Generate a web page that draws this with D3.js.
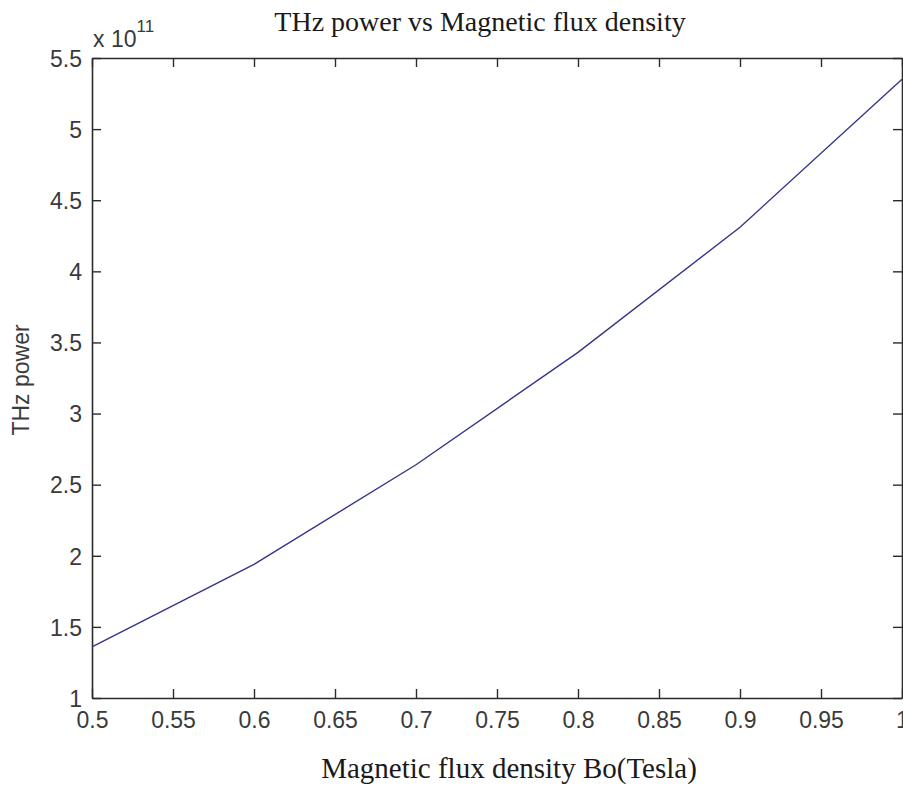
<!DOCTYPE html>
<html><head><meta charset="utf-8">
<script src="https://cdn.jsdelivr.net/npm/d3@7"></script>
<style>body{margin:0;background:#fff}svg{display:block}</style>
</head><body>
<script>
const bField = [0.5, 0.6, 0.7, 0.8, 0.9, 1.0];
const thzPower = [1.36, 1.94, 2.64, 3.43, 4.31, 5.35]; // x 10^11
const xTicks = [0.5,0.55,0.6,0.65,0.7,0.75,0.8,0.85,0.9,0.95,1];
const xTickLabels = ["0.5","0.55","0.6","0.65","0.7","0.75","0.8","0.85","0.9","0.95","1"];
const yTicks = [1,1.5,2,2.5,3,3.5,4,4.5,5,5.5];
const yTickLabels = ["1","1.5","2","2.5","3","3.5","4","4.5","5","5.5"];

const W = 903, H = 787;
const L = 92, R = 902, T = 58, B = 698;
const svg = d3.select("body").append("svg").attr("width", W).attr("height", H);
const x = d3.scaleLinear().domain([0.5, 1]).range([L, R]);
const y = d3.scaleLinear().domain([1, 5.5]).range([B, T]);

const axCol = "#2b2b2b";
const tickFont = "'Liberation Sans', Arial, sans-serif";

// bottom axis
const gB = svg.append("g").attr("transform", `translate(0,${B})`)
  .call(d3.axisBottom(x).tickValues(xTicks).tickSizeInner(-9).tickSizeOuter(0)
    .tickFormat((d,i)=>xTickLabels[i]));
gB.selectAll("text").attr("dy", null).attr("y", 30);
// top axis
const gT = svg.append("g").attr("transform", `translate(0,${T})`)
  .call(d3.axisTop(x).tickValues(xTicks).tickSizeInner(-9).tickSizeOuter(0).tickFormat(""));
// left axis
const gL = svg.append("g").attr("transform", `translate(${L},0)`)
  .call(d3.axisLeft(y).tickValues(yTicks).tickSizeInner(-9).tickSizeOuter(0)
    .tickFormat((d,i)=>yTickLabels[i]));
gL.selectAll("text").attr("x", -10).attr("dy", "0.36em");
// right axis
const gR = svg.append("g").attr("transform", `translate(${R},0)`)
  .call(d3.axisRight(y).tickValues(yTicks).tickSizeInner(-9).tickSizeOuter(0).tickFormat(""));

[gB,gT,gL,gR].forEach(g=>{
  g.select(".domain").attr("stroke", axCol).attr("stroke-width", 1.6);
  g.selectAll(".tick line").attr("stroke", axCol).attr("stroke-width", 1.4);
  g.selectAll("text").attr("fill", "#3a3a3a").style("font-family", tickFont).style("font-size", "23px");
});

// curve
svg.append("path").datum(bField.map((b,i)=>[b, thzPower[i]]))
  .attr("fill","none").attr("stroke","#35358a").attr("stroke-width",1.4)
  .attr("d", d3.line().x(d=>x(d[0])).y(d=>y(d[1])));

// exponent label
const ex = svg.append("text").attr("x", 93).attr("y", 47)
  .style("font-family", tickFont).style("font-size", "23px").attr("fill", "#3a3a3a");
ex.append("tspan").text("x 10");
ex.append("tspan").attr("dy", -15).style("font-size", "17px").text("11");

// title
svg.append("text").attr("x", 480).attr("y", 31).attr("text-anchor","middle")
  .style("font-family","'Liberation Serif','Times New Roman',serif").style("font-size","28px")
  .attr("fill","#1a1a1a").text("THz power vs Magnetic flux density");
// x label
svg.append("text").attr("x", 509).attr("y", 778).attr("text-anchor","middle")
  .style("font-family","'Liberation Serif','Times New Roman',serif").style("font-size","29px")
  .attr("fill","#1a1a1a").text("Magnetic flux density Bo(Tesla)");
// y label
svg.append("text").attr("transform","translate(29,380) rotate(-90)").attr("text-anchor","middle")
  .style("font-family", tickFont).style("font-size","23px").attr("fill","#3a3a3a").text("THz power");
</script>
</body></html>
